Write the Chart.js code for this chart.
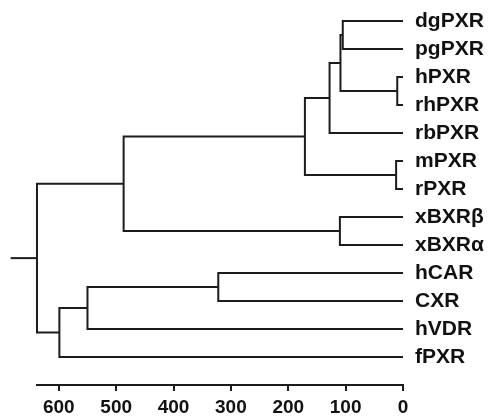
<!DOCTYPE html>
<html>
<head>
<meta charset="utf-8">
<script src="https://cdn.jsdelivr.net/npm/chart.js@4.4.1/dist/chart.umd.min.js"></script>
<style>
  body { margin: 0; background: #fff; }
  #wrap { width: 488px; height: 418px; }
</style>
</head>
<body>
<div id="wrap"><canvas id="tree"></canvas></div>
<script>
// leaves, top to bottom
const leaves = ['dgPXR', 'pgPXR', 'hPXR', 'rhPXR', 'rbPXR', 'mPXR', 'rPXR', 'xBXRβ', 'xBXRα', 'hCAR', 'CXR', 'hVDR', 'fPXR'];

// merges: node ids continue after the leaves (13, 14, ...)
const mergeLeft  = [0, 2, 13, 15, 5, 16, 7, 18, 9, 21, 22, 20];
const mergeRight = [1, 3, 14, 4, 6, 17, 8, 19, 10, 11, 12, 23];
const mergeDist  = [105, 10, 109, 128, 12, 171, 110, 487, 322, 550, 599, 638];

const rootTip = 684;
const xTicks = [0, 100, 200, 300, 400, 500, 600];

// node positions: x = distance, y = leaf row
const nodeX = leaves.map(() => 0);
const nodeY = leaves.map((l, i) => i);

const links = [];
for (let i = 0; i < mergeDist.length; i++) {
  const a = mergeLeft[i], b = mergeRight[i], d = mergeDist[i];
  links.push([
    {x: nodeX[a], y: nodeY[a]},
    {x: d, y: nodeY[a]},
    {x: d, y: nodeY[b]},
    {x: nodeX[b], y: nodeY[b]}
  ]);
  nodeX.push(d);
  nodeY.push((nodeY[a] + nodeY[b]) / 2);
}
const root = nodeX.length - 1;
links.push([{x: nodeX[root], y: nodeY[root]}, {x: rootTip, y: nodeY[root]}]);

const ink = '#1c1c1c';

new Chart(document.getElementById('tree'), {
  type: 'scatter',
  data: {
    datasets: links.map(pts => ({
      data: pts,
      showLine: true,
      borderColor: ink,
      borderWidth: 2,
      pointRadius: 0,
      tension: 0,
      clip: false
    }))
  },
  options: {
    responsive: true,
    maintainAspectRatio: false,
    animation: false,
    layout: { padding: { top: 7, left: 37, right: 0, bottom: 0 } },
    plugins: { legend: { display: false }, tooltip: { enabled: false } },
    scales: {
      x: {
        type: 'linear',
        reverse: true,
        min: 0,
        max: 638,
        afterBuildTicks: (s) => { s.ticks = xTicks.map(v => ({value: v})); },
        afterFit: (s) => { s.height = 33; s.paddingLeft = 0; s.paddingRight = 0; },
        border: { display: true, color: ink, width: 2 },
        grid: { drawOnChartArea: false, color: ink, lineWidth: 2, tickLength: 6 },
        ticks: {
          color: '#111',
          padding: 5,
          font: { family: 'Liberation Sans, Arial, sans-serif', size: 19, weight: 'bold' }
        }
      },
      y: {
        type: 'linear',
        position: 'right',
        reverse: true,
        min: -0.5,
        max: 13,
        afterBuildTicks: (s) => { s.ticks = leaves.map((l, i) => ({value: i})); },
        afterFit: (s) => { s.width = 85; s.paddingTop = 0; s.paddingBottom = 0; },
        border: { display: false },
        grid: { display: false, drawTicks: false },
        ticks: {
          color: '#111',
          padding: 12,
          callback: (v) => leaves[v],
          font: { family: 'Liberation Sans, Arial, sans-serif', size: 21, weight: 'bold' }
        }
      }
    }
  }
});
</script>
</body>
</html>
